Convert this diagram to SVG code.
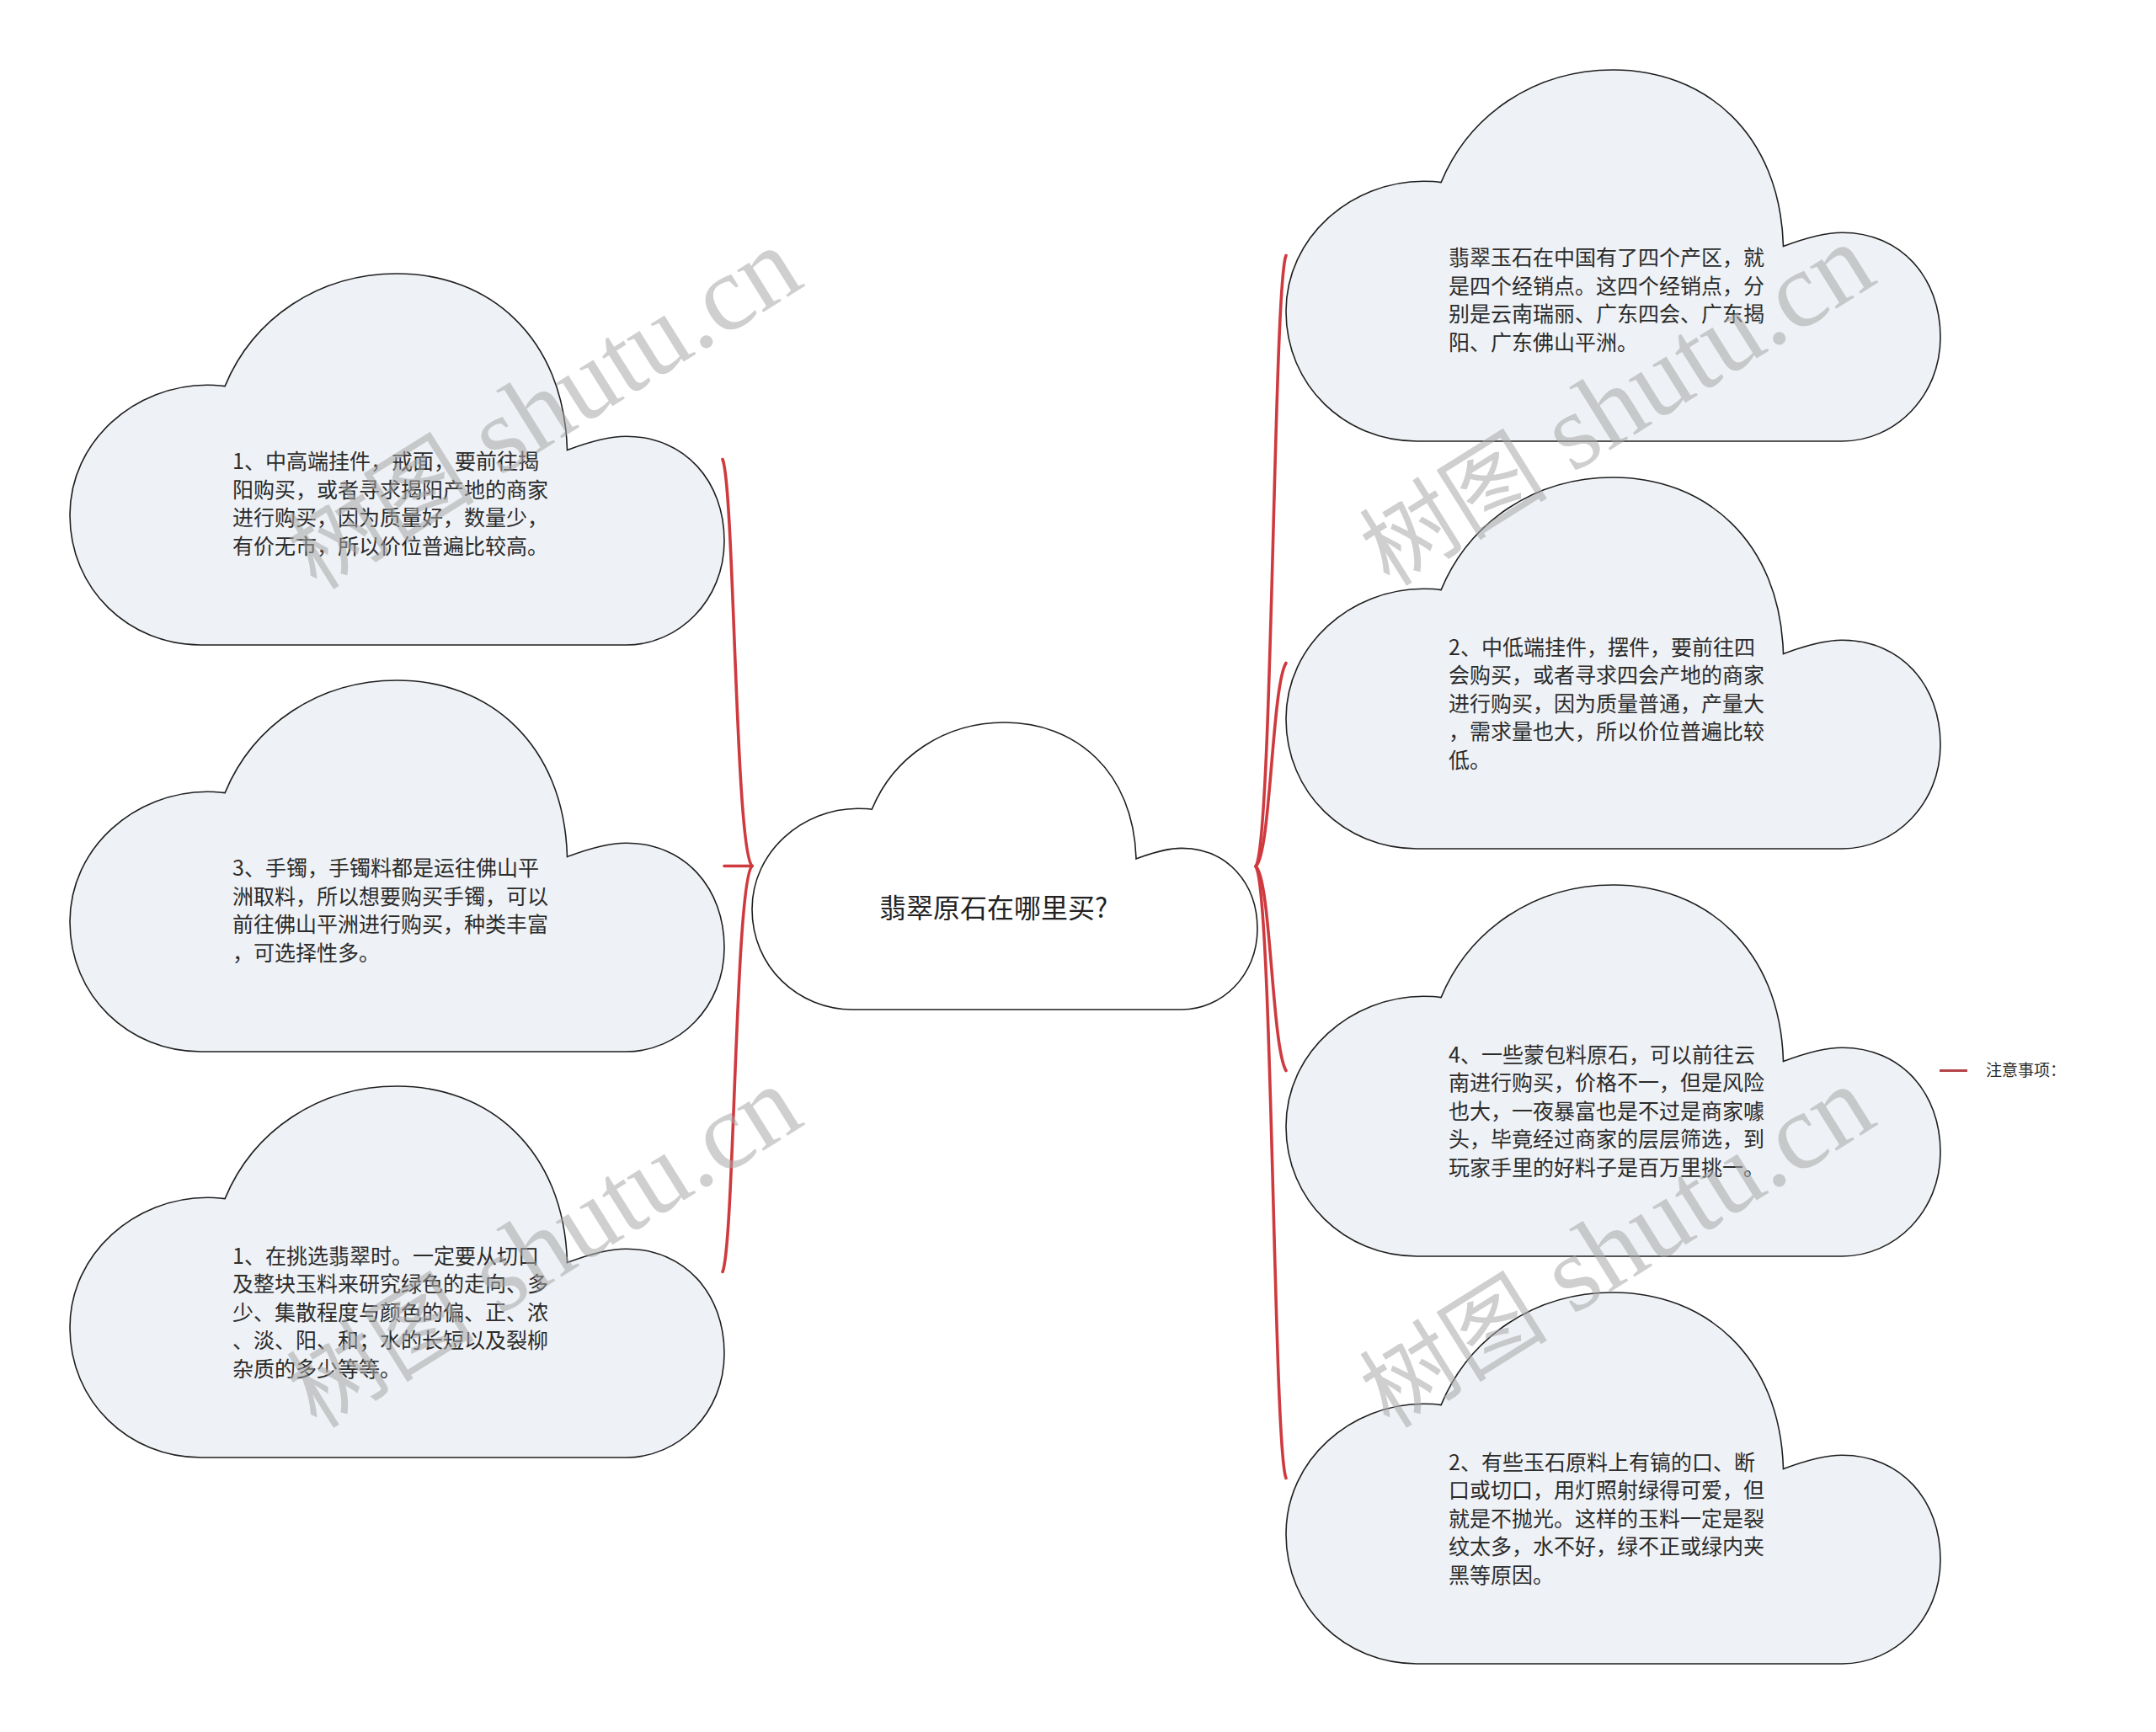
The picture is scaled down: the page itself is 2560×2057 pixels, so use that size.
<svg xmlns="http://www.w3.org/2000/svg" xmlns:xlink="http://www.w3.org/1999/xlink" width="2560" height="2057" viewBox="0 0 2560 2057">
<style>
.bg{fill:#ffffff}
.cloud{fill:#eef1f5;stroke:#1f1f1f;stroke-width:1.6}
.cloudc{fill:#ffffff;stroke:#1f1f1f;stroke-width:1.6}
.t{font-family:"Noto Sans CJK SC","Noto Sans",sans-serif;font-size:25px;fill:#2b2b2b}
.tc{font-family:"Noto Sans CJK SC","Noto Sans",sans-serif;font-size:32px;fill:#222222}
.ts{font-family:"Noto Sans CJK SC","Noto Sans",sans-serif;font-size:19px;fill:#2b2b2b}
.link{fill:none;stroke:#cf3a3f;stroke-width:3.6;stroke-linecap:round}
.link2{fill:none;stroke:#b2444a;stroke-width:3.2}
.wm{font-family:"Liberation Serif","Noto Sans CJK SC",serif;font-size:128px;fill:#a8a8a8;opacity:0.55}
.wmc{font-family:"Noto Sans CJK SC",serif;font-size:112px}
</style>
<defs>
<path id="cloud" d="M184.1,133.6 C217.6,52.9 295.3,0 388.5,0 C497.3,0 586.6,75 590.5,209.5 C613.8,200.7 637.1,193.2 660.5,193.2 C730.4,193.2 777,247 777,317.5 C777,388.1 722.6,441 660.5,441 L155.4,441 C69.9,441 0,374.9 0,286.7 C0,198.5 77.7,132.3 163.2,132.3 C170.9,132.3 178.7,132.7 184.1,133.6 Z"/>
<path id="cloudC" d="M142.2,103.3 C168,40.9 228,0 300,0 C384,0 453,58 456,162 C474,155.2 492,149.4 510,149.4 C564,149.4 600,191 600,245.5 C600,300.1 558,341 510,341 L120,341 C54,341 0,289.9 0,221.7 C0,153.5 60,102.3 126,102.3 C132,102.3 138,102.6 142.2,103.3 Z"/>
</defs>
<rect class="bg" x="0" y="0" width="2560" height="2057"/>

<g id="connectors">
<path class="link" d="M860,1028.5 L893,1028.5"/>
<path class="link" d="M893,1028.5 C873,1010 872,580 858,545.5"/>
<path class="link" d="M893,1028.5 C873,1047 872,1477 858,1510.5"/>
<path class="link" d="M1491,1029 C1511,1000 1512,340 1527,303.5"/>
<path class="link" d="M1491,1029 C1509,1015 1510,815 1527,787.5"/>
<path class="link" d="M1491,1029 C1509,1043 1510,1243 1527,1271.5"/>
<path class="link" d="M1491,1029 C1511,1058 1512,1718 1527,1755.5"/>
<path class="link2" d="M2303,1271.5 L2336,1271.5"/>
</g>

<g id="root">
<use xlink:href="#cloudC" href="#cloudC" class="cloudc" x="893" y="858"/>
<text class="tc" x="1044" y="1090">翡翠原石在哪里买?</text>
</g>

<g id="node-a">
<use xlink:href="#cloud" href="#cloud" class="cloud" x="83" y="325"/>
<text class="t" x="276"><tspan x="276" y="557">1、中高端挂件，戒面，要前往揭</tspan><tspan x="276" y="590.5">阳购买，或者寻求揭阳产地的商家</tspan><tspan x="276" y="624">进行购买，因为质量好，数量少，</tspan><tspan x="276" y="657.5">有价无市，所以价位普遍比较高。</tspan></text>
</g>

<g id="node-b">
<use xlink:href="#cloud" href="#cloud" class="cloud" x="83" y="808"/>
<text class="t" x="276"><tspan x="276" y="1040">3、手镯，手镯料都是运往佛山平</tspan><tspan x="276" y="1073.5">洲取料，所以想要购买手镯，可以</tspan><tspan x="276" y="1107">前往佛山平洲进行购买，种类丰富</tspan><tspan x="276" y="1140.5">，可选择性多。</tspan></text>
</g>

<g id="node-c">
<use xlink:href="#cloud" href="#cloud" class="cloud" x="83" y="1290"/>
<text class="t" x="276"><tspan x="276" y="1500.5">1、在挑选翡翠时。一定要从切口</tspan><tspan x="276" y="1534">及整块玉料来研究绿色的走向、多</tspan><tspan x="276" y="1567.5">少、集散程度与颜色的偏、正、浓</tspan><tspan x="276" y="1601">、淡、阳、和；水的长短以及裂柳</tspan><tspan x="276" y="1634.5">杂质的多少等等。</tspan></text>
</g>

<g id="node-r1">
<use xlink:href="#cloud" href="#cloud" class="cloud" x="1527" y="83"/>
<text class="t" x="1720"><tspan x="1720" y="315">翡翠玉石在中国有了四个产区，就</tspan><tspan x="1720" y="348.5">是四个经销点。这四个经销点，分</tspan><tspan x="1720" y="382">别是云南瑞丽、广东四会、广东揭</tspan><tspan x="1720" y="415.5">阳、广东佛山平洲。</tspan></text>
</g>

<g id="node-r2">
<use xlink:href="#cloud" href="#cloud" class="cloud" x="1527" y="567"/>
<text class="t" x="1720"><tspan x="1720" y="777.5">2、中低端挂件，摆件，要前往四</tspan><tspan x="1720" y="811">会购买，或者寻求四会产地的商家</tspan><tspan x="1720" y="844.5">进行购买，因为质量普通，产量大</tspan><tspan x="1720" y="878">，需求量也大，所以价位普遍比较</tspan><tspan x="1720" y="911.5">低。</tspan></text>
</g>

<g id="node-r3">
<use xlink:href="#cloud" href="#cloud" class="cloud" x="1527" y="1051"/>
<text class="t" x="1720"><tspan x="1720" y="1261.5">4、一些蒙包料原石，可以前往云</tspan><tspan x="1720" y="1295">南进行购买，价格不一，但是风险</tspan><tspan x="1720" y="1328.5">也大，一夜暴富也是不过是商家噱</tspan><tspan x="1720" y="1362">头，毕竟经过商家的层层筛选，到</tspan><tspan x="1720" y="1395.5">玩家手里的好料子是百万里挑一。</tspan></text>
</g>

<g id="node-r4">
<use xlink:href="#cloud" href="#cloud" class="cloud" x="1527" y="1535"/>
<text class="t" x="1720"><tspan x="1720" y="1745.5">2、有些玉石原料上有镐的口、断</tspan><tspan x="1720" y="1779">口或切口，用灯照射绿得可爱，但</tspan><tspan x="1720" y="1812.5">就是不抛光。这样的玉料一定是裂</tspan><tspan x="1720" y="1846">纹太多，水不好，绿不正或绿内夹</tspan><tspan x="1720" y="1879.5">黑等原因。</tspan></text>
</g>

<g id="node-note">
<text class="ts" x="2358" y="1278">注意事项：</text>
</g>

<g id="watermarks">
<text class="wm" x="376" y="702" transform="rotate(-32 376 702)"><tspan class="wmc">树图</tspan> shutu.cn</text>
<text class="wm" x="1650" y="698" transform="rotate(-32 1650 698)"><tspan class="wmc">树图</tspan> shutu.cn</text>
<text class="wm" x="376" y="1698" transform="rotate(-32 376 1698)"><tspan class="wmc">树图</tspan> shutu.cn</text>
<text class="wm" x="1650" y="1698" transform="rotate(-32 1650 1698)"><tspan class="wmc">树图</tspan> shutu.cn</text>
</g>
</svg>
